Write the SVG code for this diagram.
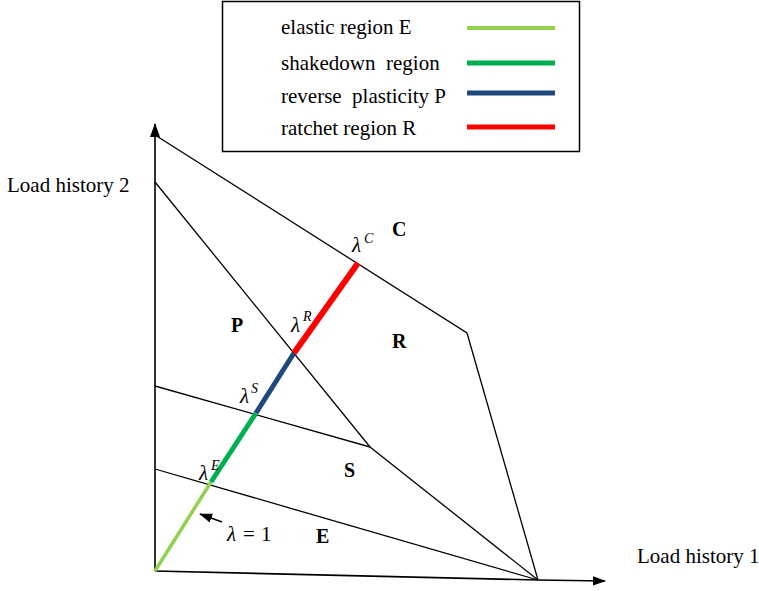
<svg xmlns="http://www.w3.org/2000/svg" width="759" height="591" viewBox="0 0 759 591">
<style>
text { font-family: 'Liberation Serif', 'DejaVu Serif', 'Times New Roman', serif; fill: #000; white-space: pre; }
.lbl { font-size: 21px; }
.reg { font-size: 20px; font-weight: bold; }
.lam { font-size: 21px; font-style: italic; }
.sup { font-size: 14px; font-style: italic; }
.ln { stroke: #000; stroke-width: 1.3; fill: none; }
.ax { stroke: #000; stroke-width: 1.6; fill: none; }
</style>
<defs>
<marker id="ah" viewBox="0 0 14 10" refX="13" refY="5" markerWidth="14" markerHeight="10" markerUnits="userSpaceOnUse" orient="auto">
<path d="M0,0 L14,5 L0,10 Z" fill="#000"/>
</marker>
<marker id="ah2" viewBox="0 0 14 10" refX="13" refY="5" markerWidth="13" markerHeight="10" markerUnits="userSpaceOnUse" orient="auto">
<path d="M0,0 L14,5 L0,10 Z" fill="#000"/>
</marker>
</defs>
<g id="legend">
<rect x="222.5" y="1.5" width="357" height="150" fill="#fff" stroke="#000" stroke-width="1.5"/>
<text class="lbl" x="281" y="34">elastic region E</text>
<text class="lbl" x="281" y="70">shakedown  region</text>
<text class="lbl" x="281" y="103">reverse  plasticity P</text>
<text class="lbl" x="281" y="135">ratchet region R</text>
<line x1="467" y1="28" x2="555" y2="28" stroke="#92D050" stroke-width="4"/>
<line x1="467" y1="63" x2="555" y2="63" stroke="#00B050" stroke-width="5"/>
<line x1="467" y1="93" x2="555" y2="93" stroke="#1F497D" stroke-width="5"/>
<line x1="467" y1="127" x2="555" y2="127" stroke="#FF0000" stroke-width="5"/>
</g>
<g id="axes">
<line class="ax" x1="155" y1="571" x2="155" y2="124" marker-end="url(#ah)"/>
<polyline class="ax" points="155,571 538,580 605,581" marker-end="url(#ah2)"/>
<text class="lbl" x="7" y="192">Load history 2</text>
<text class="lbl" x="637" y="563">Load history 1</text>
</g>
<g id="connectors">
<polyline class="ln" points="155,135 467,333 538,580"/>
<polyline class="ln" points="155,182 370,447 538,580"/>
<line class="ln" x1="155" y1="386" x2="370" y2="447"/>
<line class="ln" x1="155" y1="469" x2="538" y2="580"/>
<line x1="155" y1="571" x2="211" y2="482" stroke="#92D050" stroke-width="3.5"/>
<line x1="211" y1="482" x2="256" y2="413" stroke="#00B050" stroke-width="5"/>
<line x1="256" y1="413" x2="294" y2="353" stroke="#1F497D" stroke-width="5"/>
<line x1="294" y1="353" x2="358" y2="263" stroke="#FF0000" stroke-width="6"/>
<line x1="222" y1="522" x2="200" y2="514" stroke="#000" stroke-width="1.6" marker-end="url(#ah2)"/>
</g>
<g id="region-labels">
<text class="reg" x="392" y="236">C</text>
<text class="reg" x="231" y="332">P</text>
<text class="reg" x="392" y="348">R</text>
<text class="reg" x="344" y="477">S</text>
<text class="reg" x="316" y="543">E</text>
</g>
<g id="lambda-labels">
<text class="lam" x="352" y="252">λ</text><text class="sup" x="364" y="243">C</text>
<text class="lam" x="291" y="332">λ</text><text class="sup" x="303" y="321">R</text>
<text class="lam" x="240" y="403">λ</text><text class="sup" x="251" y="393">S</text>
<text class="lam" x="199" y="480">λ</text><text class="sup" x="211" y="470">E</text>
<text class="lam" x="227" y="541">λ</text>
<text class="lbl" x="243" y="541">=</text>
<text class="lbl" x="261" y="541">1</text>
</g>
</svg>
